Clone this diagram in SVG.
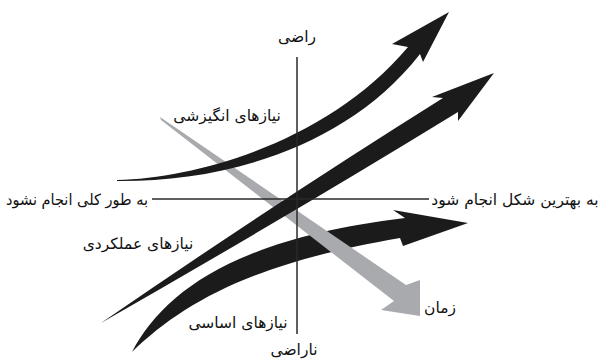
<svg xmlns="http://www.w3.org/2000/svg" width="602" height="361" viewBox="0 0 602 361">
<style>
.lbl{font-family:"DejaVu Sans",sans-serif;font-size:15.5px;fill:#111;text-anchor:middle}
.blk{fill:#1b1b1b}
.gry{fill:#a9aaae}
.axis{stroke:#2a2a2a;stroke-width:1.5;fill:none}
</style>
<rect width="602" height="361" fill="#fff"/>
<g id="connectors">
<path id="arrow-basic" class="blk" d="M132,352 C165,289 240,238 405,218 L393,210 L468,223 L403,246 L400,238 C255,263 185,301 132,352 Z"/>
<path id="arrow-time" class="gry" d="M160,117 L406,285 L420,280 L420,316 L381,310 L394,301 L161,120 Z"/>
<path id="arrow-performance" class="blk" d="M101,323 Q280,200 443,98 L432,97 L494,73 L458,121 L458,112 Q290,215 101,323 Z"/>
<path id="arrow-excitement" class="blk" d="M117,180 C200,178 330,140 408,47 L392,44 L449,12 L423,62 L420,54 C345,150 220,182 117,181 Z"/>
<line id="axis-v" class="axis" x1="297" y1="57" x2="297" y2="334"/>
<line id="axis-h" class="axis" x1="152" y1="199" x2="429" y2="199"/>
</g>
<g id="node-satisfied"><text class="lbl" x="297" y="42">راضی</text></g>
<g id="node-dissatisfied"><text class="lbl" x="294" y="355">ناراضی</text></g>
<g id="node-not-done"><text class="lbl" x="77" y="205" textLength="142" lengthAdjust="spacingAndGlyphs">به طور کلی انجام نشود</text></g>
<g id="node-done-best"><text class="lbl" x="515" y="205">به بهترین شکل انجام شود</text></g>
<g id="node-excitement"><text class="lbl" x="227" y="121">نیازهای انگیزشی</text></g>
<g id="node-performance"><text class="lbl" x="138" y="249">نیازهای عملکردی</text></g>
<g id="node-basic"><text class="lbl" x="238" y="328">نیازهای اساسی</text></g>
<g id="node-time"><text class="lbl" x="440" y="313">زمان</text></g>
</svg>
